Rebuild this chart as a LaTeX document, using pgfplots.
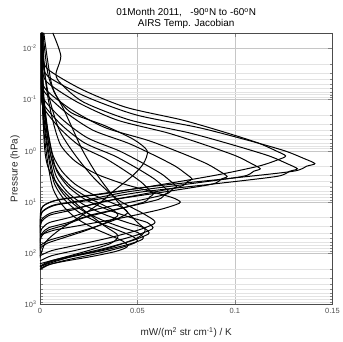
\documentclass[border=0pt]{standalone}
\usepackage{pgfplots}
\pgfplotsset{compat=1.18}
\usepackage{fontspec}
\setmainfont{Liberation Sans}
\begin{document}
\begin{tikzpicture}
\begin{axis}[name=ax,
  scale only axis, width=293bp, height=272bp,
  xmin=0, xmax=0.15, ymode=log, ymin=0.005, ymax=1000, y dir=reverse,
  xtick={0,0.05,0.1,0.15}, xticklabels={0,0.05,0.1,0.15},
  ytick={0.01,0.1,1,10,100,1000},
  yticklabels={10\textsuperscript{-2},10\textsuperscript{-1},10\textsuperscript{0},10\textsuperscript{1},10\textsuperscript{2},10\textsuperscript{3}},
  tick label style={font=\fontsize{7.5}{8}\selectfont, text=black!70},
  tick align=inside,
  grid=both,
  major grid style={gray!45, line width=0.3pt},
  minor grid style={gray!22, line width=0.3pt},
  minor x tick num=0,
  axis line style={black!70, line width=0.5pt},
  xlabel={mW/(m\textsuperscript{2} str cm\textsuperscript{-1}) / K},
  ylabel={Pressure (hPa)},
  label style={font=\fontsize{10}{11}\selectfont, text=black!85, inner sep=0pt},
  xlabel style={at={(axis description cs:0.5,-0.103)}, anchor=center},
  ylabel style={at={(axis description cs:-0.085,0.5)}, anchor=center},
  title={01Month 2011,\ \ \ -90\textsuperscript{o}N to -60\textsuperscript{o}N\\AIRS Temp. Jacobian},
  title style={font=\fontsize{10}{11}\selectfont, align=center, inner sep=0pt, at={(axis description cs:0.5,1)}, anchor=south, yshift=-2bp},
  cycle list={{black,mark=none}},
  every axis plot post/.append style={black, solid, mark=none, line width=1pt, smooth, tension=0.45},
  clip=true,
]
% stratospheric channels
\addplot coordinates {(0.0015,0.005) (0.0017,0.0178) (0.0042,0.0355) (0.0240,0.0891) (0.0494,0.1995) (0.0818,0.3548) (0.1072,0.631) (0.1255,1.0) (0.1354,1.413) (0.141,1.778) (0.1368,1.995) (0.1297,2.512) (0.0945,3.548) (0.0564,5.012) (0.0310,7.079) (0.0099,8.913) (0.0028,11.22) (0.0006,14.13) (0,31.62)};
\addplot coordinates {(0.0066,0.005) (0.0107,0.014) (0.0082,0.032) (0.011,0.05) (0.0224,0.1122) (0.0462,0.2512) (0.0766,0.4467) (0.1003,0.7943) (0.1175,1.259) (0.1267,1.778) (0.132,2.239) (0.1280,2.512) (0.1214,3.162) (0.0884,4.467) (0.0528,6.310) (0.0290,8.913) (0.0092,11.22) (0.0026,14.13) (0.0005,17.78) (0,39.81)};
\addplot coordinates {(0.0015,0.005) (0.0015,0.01259) (0.0038,0.02512) (0.0214,0.0631) (0.0441,0.1413) (0.0731,0.2512) (0.0958,0.4467) (0.1121,0.7079) (0.1210,1.0) (0.126,1.259) (0.122,1.5) (0.112,2.0) (0.09,3.0) (0.056,5.0) (0.03,7.0) (0.01,9) (0.003,11) (0.0005,14) (0,30)};
\addplot coordinates {(0.0014,0.005) (0.0014,0.0224) (0.0034,0.0447) (0.0192,0.1122) (0.0396,0.2512) (0.0655,0.4467) (0.0859,0.7943) (0.1006,1.259) (0.1085,1.778) (0.113,2.239) (0.1096,2.512) (0.1040,3.162) (0.0757,4.467) (0.0452,6.310) (0.0249,8.913) (0.0079,11.22) (0.0023,14.13) (0.0005,17.78) (0,39.81)};
\addplot coordinates {(0.0008,0.005) (0.0012,0.0316) (0.0029,0.0631) (0.0163,0.1585) (0.0336,0.3548) (0.0557,0.6310) (0.0730,1.122) (0.0854,1.778) (0.0922,2.512) (0.096,3.162) (0.0931,3.548) (0.0883,4.467) (0.0643,6.310) (0.0384,8.913) (0.0211,12.59) (0.0067,15.85) (0.0019,19.95) (0.0004,25.12) (0,56.23)};
\addplot coordinates {(0.0008,0.005) (0.0009,0.0355) (0.0023,0.0708) (0.0133,0.1778) (0.0273,0.3981) (0.0452,0.7079) (0.0593,1.259) (0.0694,1.995) (0.0749,2.818) (0.078,3.548) (0.0757,3.981) (0.0718,5.012) (0.0523,7.079) (0.0312,10.0) (0.0172,14.13) (0.0055,17.78) (0.0016,22.39) (0.0003,28.18) (0,63.10)};
\addplot coordinates {(0.0008,0.005) (0.0008,0.0501) (0.0021,0.1) (0.0119,0.2512) (0.0245,0.5623) (0.0406,1.0) (0.0532,1.778) (0.0623,2.818) (0.0672,3.981) (0.070,5.012) (0.0679,5.623) (0.0644,7.079) (0.0469,10.0) (0.0280,14.13) (0.0154,19.95) (0.0049,25.12) (0.0014,31.62) (0.0003,39.81) (0,89.13)};
\addplot coordinates {(0.0007,0.005) (0.0008,0.0631) (0.0020,0.1259) (0.0112,0.3162) (0.0231,0.7079) (0.0383,1.259) (0.0502,2.239) (0.0587,3.548) (0.0634,5.012) (0.066,6.310) (0.0640,7.079) (0.0607,8.913) (0.0442,12.59) (0.0264,17.78) (0.0145,25.12) (0.0046,31.62) (0.0013,39.81) (0.0003,50.12) (0,112.2)};
\addplot coordinates {(0.0006,0.005) (0.0007,0.0708) (0.0017,0.1413) (0.0099,0.3548) (0.0203,0.7943) (0.0336,1.413) (0.0441,2.512) (0.0516,3.981) (0.0557,5.623) (0.058,7.079) (0.0563,7.943) (0.0534,10.0) (0.0389,14.13) (0.0232,19.95) (0.0128,28.18) (0.0041,35.48) (0.0012,44.67) (0.0002,56.23) (0,125.9)};
% tropospheric channels
\addplot coordinates {(0.0012,0.005) (0.0025,0.03) (0.005,0.1) (0.010,0.4) (0.018,1.2) (0.028,3.5) (0.040,9) (0.052,16) (0.058,22) (0.059,25.12) (0.0572,28.18) (0.0502,35.48) (0.0354,50.12) (0.0177,70.79) (0.0059,89.13) (0,112.2)};
\addplot coordinates {(0.0012,0.005) (0.0017,0.0794) (0.0035,0.3162) (0.0058,1.0) (0.0087,2.512) (0.0145,5.012) (0.0232,8.913) (0.0348,14.13) (0.0464,19.95) (0.0551,25.12) (0.058,31.62) (0.0563,35.48) (0.0493,44.67) (0.0348,63.10) (0.0174,89.13) (0.0058,112.2) (0,141.3)};
\addplot coordinates {(0.0011,0.005) (0.0017,0.1) (0.0034,0.3981) (0.0056,1.259) (0.0084,3.162) (0.0140,6.310) (0.0224,11.22) (0.0336,17.78) (0.0448,25.12) (0.0532,31.62) (0.056,39.81) (0.0543,44.67) (0.0476,56.23) (0.0336,79.43) (0.0168,112.2) (0.0056,141.3) (0,177.8)};
\addplot coordinates {(0.0011,0.005) (0.0016,0.1259) (0.0032,0.5012) (0.0053,1.585) (0.0080,3.981) (0.0133,7.943) (0.0212,14.13) (0.0318,22.39) (0.0424,31.62) (0.0504,39.81) (0.053,50.12) (0.0514,56.23) (0.0451,67.61) (0.0318,89.13) (0.0159,117.5) (0.0053,147.9) (0,186.2)};
\addplot coordinates {(0.0010,0.005) (0.0015,0.1413) (0.0030,0.5623) (0.0050,1.778) (0.0075,4.467) (0.0125,8.913) (0.0200,15.85) (0.0300,25.12) (0.0400,35.48) (0.0475,46.77) (0.050,56.23) (0.0485,63.10) (0.0425,75.86) (0.0300,100) (0.0150,131.8) (0.0050,166.0) (0,208.9)};
\addplot coordinates {(0.0009,0.005) (0.0014,0.1778) (0.0027,0.7079) (0.0045,2.239) (0.0068,5.623) (0.0113,11.22) (0.0180,19.95) (0.0270,31.62) (0.0360,44.67) (0.0428,58.88) (0.045,70.79) (0.0437,79.43) (0.0383,93.33) (0.0270,114.8) (0.0135,141.3) (0.0045,166.0) (0,199.5)};
\addplot coordinates {(0.0014,0.005) (0.0022,0.0251) (0.0043,0.1) (0.0072,0.3162) (0.0108,0.7943) (0.018,1.585) (0.0288,2.818) (0.0432,4.467) (0.0576,6.310) (0.0684,8.318) (0.072,10.0) (0.0698,11.22) (0.0612,14.13) (0.0432,19.95) (0.0216,28.18) (0.0072,35.48) (0,44.67)};
\addplot coordinates {(0.0009,0.005) (0.0014,0.0398) (0.0027,0.1585) (0.0045,0.5012) (0.0068,1.259) (0.0113,2.512) (0.018,4.467) (0.027,7.079) (0.036,10.0) (0.0428,13.18) (0.045,15.85) (0.0437,17.78) (0.0383,22.39) (0.027,31.62) (0.0135,44.67) (0.0045,56.23) (0,70.79)};
\addplot coordinates {(0.0008,0.005) (0.0012,0.0447) (0.0024,0.1778) (0.004,0.5623) (0.006,1.413) (0.010,2.818) (0.016,5.012) (0.024,7.943) (0.032,11.22) (0.038,14.79) (0.040,17.78) (0.0388,19.95) (0.034,25.12) (0.024,35.48) (0.012,50.12) (0.004,63.10) (0,79.43)};
% broad channels
\addplot coordinates {(0.0015,0.005) (0.004,0.03) (0.008,0.08) (0.016,0.18) (0.033,0.32) (0.048,0.6) (0.055,1.0) (0.053,1.8) (0.047,3.2) (0.038,6) (0.030,11) (0.02,20) (0.010,35) (0.003,60) (0,120)};
\addplot coordinates {(0.002,0.005) (0.006,0.05) (0.012,0.15) (0.016,0.32) (0.022,1.0) (0.030,3.2) (0.040,10) (0.050,25) (0.054,35) (0.050,50) (0.035,80) (0.015,120) (0,180)};
\addplot coordinates {(0.001,0.005) (0.002,0.5) (0.004,2) (0.010,5) (0.02,12) (0.033,29) (0.040,45) (0.036,65) (0.02,100) (0,160)};
\end{axis}
\path ([xshift=-40bp,yshift=-37bp]ax.south west) rectangle ([xshift=10bp,yshift=33bp]ax.north east);
\end{tikzpicture}
\end{document}
